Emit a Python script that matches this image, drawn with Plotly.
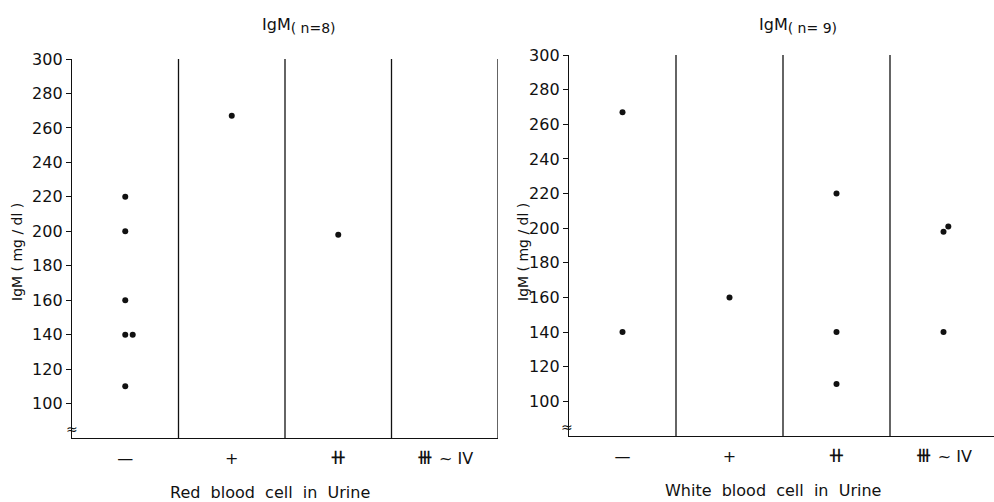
import plotly.graph_objects as go

# ---- data ----
categories = ["—", "+", "⧺", "⧻ ~ IV"]
y_ticks = [100, 120, 140, 160, 180, 200, 220, 240, 260, 280, 300]

rbc_category = [0, 0, 0, 0, 0, 0, 1, 2]
rbc_igm = [220, 200, 160, 140, 140, 110, 267, 198]
rbc_jitter = [0, 0, 0, 0, 0.07, 0, 0, 0]

wbc_category = [0, 0, 1, 2, 2, 2, 3, 3, 3]
wbc_igm = [267, 140, 160, 220, 140, 110, 198, 201, 140]
wbc_jitter = [0, 0, 0, 0, 0, 0, 0, 0.045, 0]

titles = ["IgM<sub><span style='font-size:14px'>( n=8)</span></sub>",
          "IgM<sub><span style='font-size:14px'>( n= 9)</span></sub>"]
x_titles = ["Red\u00a0\u00a0blood\u00a0\u00a0cell\u00a0\u00a0in\u00a0\u00a0Urine",
            "White\u00a0\u00a0blood\u00a0\u00a0cell\u00a0\u00a0in\u00a0\u00a0Urine"]
y_title = "IgM\u00a0(\u00a0mg\u00a0/\u00a0dl\u00a0)"

W, H = 994, 502
FONT = "DejaVu Sans"
INK = "#111111"


def px(x):
    return x / W


def py(y):
    return 1 - y / H


def sym(label):
    # enlarge the plus-family glyphs so they read at the reference's size
    out = ""
    for ch in label:
        if ch in "⧺⧻":
            out += "<span style='font-size:21px'>" + ch + "</span>"
        else:
            out += ch
    return out


fig = go.Figure()
fig.add_trace(go.Scatter(
    x=[c + 0.5 + j for c, j in zip(rbc_category, rbc_jitter)], y=rbc_igm,
    mode="markers", marker=dict(size=6, color=INK), xaxis="x", yaxis="y",
    showlegend=False))
fig.add_trace(go.Scatter(
    x=[c + 0.5 + j for c, j in zip(wbc_category, wbc_jitter)], y=wbc_igm,
    mode="markers", marker=dict(size=6, color=INK), xaxis="x2", yaxis="y2",
    showlegend=False))

xcommon = dict(showgrid=False, zeroline=False, showline=True, linecolor=INK,
               linewidth=1.3, tickvals=[0.5, 1.5, 2.5, 3.5],
               ticktext=[sym(c) for c in categories],
               ticks="", ticklabelstandoff=6, automargin=False,
               tickfont=dict(family=FONT, size=16, color=INK), fixedrange=True)
ycommon = dict(showgrid=False, zeroline=False, showline=True, linecolor=INK,
               linewidth=1.3, range=[80, 300], tickvals=y_ticks, ticks="outside",
               ticklen=5, tickcolor=INK, tickwidth=1.2, automargin=False,
               tickfont=dict(family=FONT, size=16, color=INK), fixedrange=True)

left_x = (72, 498)
right_x = (569, 997)
right_range = 4 * (W - right_x[0]) / (right_x[1] - right_x[0])

fig.update_layout(
    width=W, height=H, margin=dict(l=0, r=0, t=0, b=0, pad=0),
    paper_bgcolor="white", plot_bgcolor="white",
    xaxis=dict(xcommon, domain=[px(left_x[0]), px(left_x[1])], range=[0, 4], anchor="y"),
    yaxis=dict(ycommon, domain=[py(438), py(59)], anchor="x"),
    xaxis2=dict(xcommon, domain=[px(right_x[0]), 1], range=[0, right_range], anchor="y2"),
    yaxis2=dict(ycommon, domain=[py(436), py(55)], anchor="x2"),
)

shapes = []
for xv in [1, 2, 3, 4]:
    shapes.append(dict(type="line", xref="x", yref="y domain", x0=xv, x1=xv, y0=0, y1=1,
                       line=dict(color=INK, width=1.3)))
for xv in [1, 2, 3]:
    shapes.append(dict(type="line", xref="x2", yref="y2 domain", x0=xv, x1=xv, y0=0, y1=1,
                       line=dict(color=INK, width=1.3)))
fig.update_layout(shapes=shapes)


def note(text, x, y, size=16, angle=0):
    return dict(text=text, x=px(x), y=py(y), xref="paper", yref="paper",
                xanchor="center", yanchor="middle", textangle=angle,
                showarrow=False, font=dict(family=FONT, size=size, color=INK))


ann = [
    note(titles[0], 299, 26),
    note(titles[1], 798, 26),
    note(x_titles[0], 270, 492),
    note(x_titles[1], 773, 490),
    note(y_title, 17, 252, size=14, angle=-90),
    note(y_title, 523, 252, size=14, angle=-90),
    note("≈", 72, 429, size=14),
    note("≈", 567, 427, size=14),
]
fig.update_layout(annotations=ann)

fig.write_html("out.html", config={"displayModeBar": False},
               post_script="document.body.style.margin='0';")
